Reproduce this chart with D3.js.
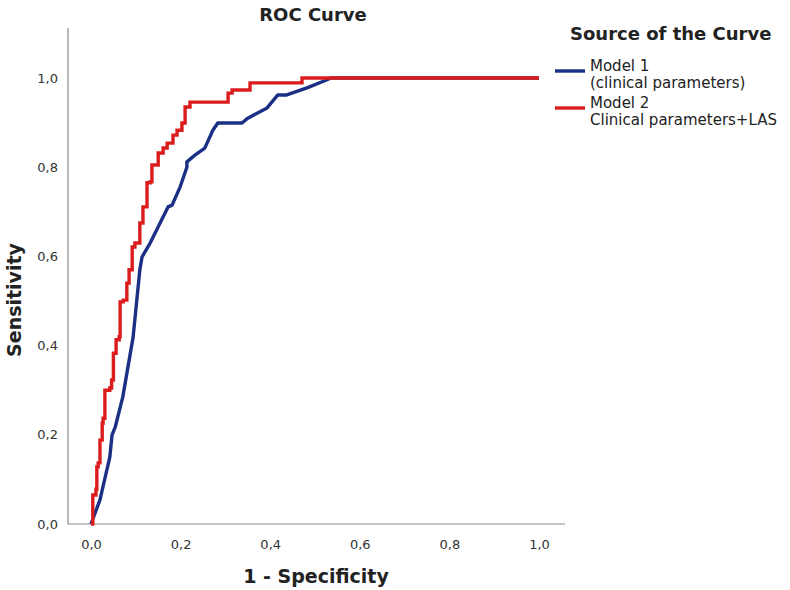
<!DOCTYPE html>
<html>
<head>
<meta charset="utf-8">
<script src="https://cdn.jsdelivr.net/npm/d3@7"></script>
<style>
  body { margin: 0; background: #fff; }
  text { font-family: "DejaVu Sans", sans-serif; }
</style>
</head>
<body>
<div id="chart"></div>
<script>
// ROC data (1 - specificity, sensitivity)
var model1Fpr = [0, 0.020, 0.042, 0.047, 0.054, 0.071, 0.094, 0.109, 0.114, 0.132, 0.172, 0.181, 0.199, 0.214, 0.214, 0.232, 0.254, 0.259, 0.272, 0.283, 0.337, 0.350, 0.393, 0.417, 0.437, 0.482, 0.527, 0.535, 1.0];
var model1Tpr = [0, 0.054, 0.150, 0.200, 0.217, 0.285, 0.419, 0.570, 0.599, 0.630, 0.711, 0.715, 0.756, 0.800, 0.812, 0.827, 0.843, 0.854, 0.883, 0.899, 0.899, 0.910, 0.933, 0.962, 0.962, 0.978, 0.996, 1.0, 1.0];

var model2Fpr = [0, 0.004, 0.011, 0.013, 0.016, 0.020, 0.025, 0.027, 0.031, 0.042, 0.046, 0.050, 0.056, 0.063, 0.065, 0.072, 0.080, 0.085, 0.092, 0.098, 0.109, 0.116, 0.125, 0.132, 0.136, 0.150, 0.161, 0.170, 0.183, 0.192, 0.203, 0.210, 0.221, 0.306, 0.315, 0.355, 0.471, 1.0];
var model2Tpr = [0, 0.065, 0.078, 0.128, 0.137, 0.188, 0.226, 0.237, 0.300, 0.305, 0.323, 0.383, 0.413, 0.420, 0.498, 0.502, 0.540, 0.570, 0.621, 0.630, 0.675, 0.711, 0.765, 0.767, 0.805, 0.832, 0.843, 0.854, 0.872, 0.883, 0.899, 0.935, 0.946, 0.966, 0.973, 0.989, 1.0, 1.0];

var tickValues = [0, 0.2, 0.4, 0.6, 0.8, 1.0];
var seriesNames = [["Model 1", "(clinical parameters)"], ["Model 2", "Clinical parameters+LAS"]];
var seriesColors = ["#1b2f85", "#dc1c1c"];

var width = 790, height = 590;

var svg = d3.select("#chart").append("svg")
    .attr("width", width)
    .attr("height", height);

var x = d3.scaleLinear().domain([0, 1]).range([91, 539]);
var y = d3.scaleLinear().domain([0, 1]).range([524, 78]);

// axis frame lines
svg.append("line")
    .attr("x1", 68).attr("x2", 68)
    .attr("y1", 28).attr("y2", 524)
    .attr("stroke", "#8a8a8a").attr("stroke-width", 1.2);
svg.append("line")
    .attr("x1", 68).attr("x2", 565)
    .attr("y1", 524).attr("y2", 524)
    .attr("stroke", "#8a8a8a").attr("stroke-width", 1.2);

var fmt = function(d) { return d3.format(".1f")(d).replace(".", ","); };

var xAxis = svg.append("g")
    .attr("transform", "translate(0,524)")
    .call(d3.axisBottom(x).tickValues(tickValues).tickSize(0).tickPadding(16).tickFormat(fmt));
var yAxis = svg.append("g")
    .attr("transform", "translate(68,0)")
    .call(d3.axisLeft(y).tickValues(tickValues).tickSize(0).tickPadding(10).tickFormat(fmt));
[xAxis, yAxis].forEach(function(a) {
  a.select(".domain").remove();
  a.selectAll("text").attr("font-size", 13).attr("fill", "#333")
    .style("font-family", "'DejaVu Sans', sans-serif");
});

var line = d3.line()
    .x(function(d) { return x(d[0]); })
    .y(function(d) { return y(d[1]); });

var m1 = model1Fpr.map(function(v, i) { return [v, model1Tpr[i]]; });
var m2 = model2Fpr.map(function(v, i) { return [v, model2Tpr[i]]; });

svg.append("path")
    .attr("d", line(m1))
    .attr("fill", "none")
    .attr("stroke", seriesColors[0])
    .attr("stroke-width", 3.4)
    .attr("stroke-linejoin", "round");

svg.append("path")
    .attr("d", line.curve(d3.curveStepAfter)(m2))
    .attr("fill", "none")
    .attr("stroke", seriesColors[1])
    .attr("stroke-width", 3.4);

// titles
svg.append("text")
    .attr("x", 313).attr("y", 21)
    .attr("text-anchor", "middle")
    .attr("font-size", 18).attr("font-weight", "bold").attr("fill", "#222")
    .text("ROC Curve");

svg.append("text")
    .attr("x", 316).attr("y", 583)
    .attr("text-anchor", "middle")
    .attr("font-size", 19).attr("font-weight", "bold").attr("fill", "#222")
    .text("1 - Specificity");

svg.append("text")
    .attr("transform", "translate(21,300) rotate(-90)")
    .attr("text-anchor", "middle")
    .attr("font-size", 19).attr("font-weight", "bold").attr("fill", "#222")
    .text("Sensitivity");

// legend
svg.append("text")
    .attr("x", 570).attr("y", 40)
    .attr("font-size", 18).attr("font-weight", "bold").attr("fill", "#222")
    .text("Source of the Curve");

var legend = svg.selectAll(".leg")
    .data(seriesNames)
    .enter().append("g")
    .attr("transform", function(d, i) { return "translate(555," + (71 + i * 37) + ")"; });

legend.append("line")
    .attr("x1", 0).attr("x2", 30)
    .attr("stroke", function(d, i) { return seriesColors[i]; })
    .attr("stroke-width", 3.4);

legend.append("text")
    .attr("x", 35).attr("y", 0)
    .attr("font-size", 15).attr("fill", "#222")
    .selectAll("tspan")
    .data(function(d) { return d; })
    .enter().append("tspan")
    .attr("x", 35)
    .attr("dy", function(d, i) { return i === 0 ? 0 : 17; })
    .text(function(d) { return d; });
</script>
</body>
</html>
